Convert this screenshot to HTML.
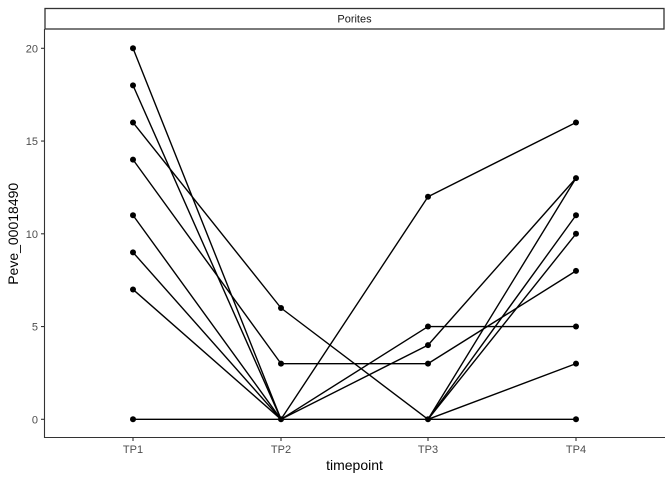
<!DOCTYPE html>
<html><head><meta charset="utf-8"><style>
html,body{margin:0;padding:0;background:#fff;}
svg{display:block;font-family:"Liberation Sans",Arial,sans-serif;}
</style></head><body>
<svg width="672" height="480" viewBox="0 0 672 480" xmlns="http://www.w3.org/2000/svg">
<rect width="672" height="480" fill="#fff"/>
<!-- strip -->
<rect x="45" y="8.5" width="619" height="20.5" fill="#fff" stroke="#333" stroke-width="1.3"/>
<text x="354.5" y="22.5" font-size="11" fill="#1a1a1a" text-anchor="middle">Porites</text>
<!-- axes -->
<line x1="44.5" y1="29" x2="44.5" y2="438" stroke="#333" stroke-width="1.1"/>
<line x1="44" y1="437.5" x2="665" y2="437.5" stroke="#333" stroke-width="1.1"/>
<g stroke="#333" stroke-width="1.1">
<line x1="41" y1="419.3" x2="44" y2="419.3"/>
<line x1="41" y1="326.55" x2="44" y2="326.55"/>
<line x1="41" y1="233.8" x2="44" y2="233.8"/>
<line x1="41" y1="141.05" x2="44" y2="141.05"/>
<line x1="41" y1="48.3" x2="44" y2="48.3"/>
<line x1="133" y1="438" x2="133" y2="441"/>
<line x1="281" y1="438" x2="281" y2="441"/>
<line x1="428" y1="438" x2="428" y2="441"/>
<line x1="576" y1="438" x2="576" y2="441"/>
</g>
<g font-size="11" fill="#4d4d4d" text-anchor="end">
<text x="38" y="423.3">0</text>
<text x="38" y="330.55">5</text>
<text x="38" y="237.8">10</text>
<text x="38" y="145.05">15</text>
<text x="38" y="52.3">20</text>
</g>
<g font-size="11" fill="#4d4d4d" text-anchor="middle">
<text x="133" y="453">TP1</text>
<text x="281" y="453">TP2</text>
<text x="428" y="453">TP3</text>
<text x="576" y="453">TP4</text>
</g>
<text x="354.5" y="470" font-size="14" fill="#000" text-anchor="middle">timepoint</text>
<text transform="translate(18,233.8) rotate(-90)" font-size="14" fill="#000" text-anchor="middle">Peve_00018490</text>
<!-- lines -->
<g stroke="#000" stroke-width="1.4" fill="none">
<line x1="133" y1="48.3" x2="281" y2="419.3"/>
<line x1="133" y1="85.4" x2="281" y2="419.3"/>
<line x1="133" y1="122.5" x2="281" y2="308"/>
<line x1="133" y1="159.6" x2="281" y2="363.65"/>
<line x1="133" y1="215.25" x2="281" y2="419.3"/>
<line x1="133" y1="252.35" x2="281" y2="419.3"/>
<line x1="133" y1="289.45" x2="281" y2="419.3"/>
<line x1="133" y1="419.3" x2="281" y2="419.3"/>
<line x1="281" y1="308" x2="428" y2="419.3"/>
<line x1="281" y1="363.65" x2="428" y2="363.65"/>
<line x1="281" y1="419.3" x2="428" y2="196.7"/>
<line x1="281" y1="419.3" x2="428" y2="326.55"/>
<line x1="281" y1="419.3" x2="428" y2="345.1"/>
<line x1="281" y1="419.3" x2="428" y2="419.3"/>
<line x1="428" y1="196.7" x2="576" y2="122.5"/>
<line x1="428" y1="326.55" x2="576" y2="326.55"/>
<line x1="428" y1="345.1" x2="576" y2="178.15"/>
<line x1="428" y1="363.65" x2="576" y2="270.9"/>
<line x1="428" y1="419.3" x2="576" y2="178.15"/>
<line x1="428" y1="419.3" x2="576" y2="215.25"/>
<line x1="428" y1="419.3" x2="576" y2="233.8"/>
<line x1="428" y1="419.3" x2="576" y2="363.65"/>
<line x1="428" y1="419.3" x2="576" y2="419.3"/>
</g>
<!-- points -->
<g fill="#000">
<circle cx="133" cy="48.3" r="3"/><circle cx="133" cy="85.4" r="3"/><circle cx="133" cy="122.5" r="3"/><circle cx="133" cy="159.6" r="3"/><circle cx="133" cy="215.25" r="3"/><circle cx="133" cy="252.35" r="3"/><circle cx="133" cy="289.45" r="3"/><circle cx="133" cy="419.3" r="3"/>
<circle cx="281" cy="308" r="3"/><circle cx="281" cy="363.65" r="3"/><circle cx="281" cy="419.3" r="3"/>
<circle cx="428" cy="196.7" r="3"/><circle cx="428" cy="326.55" r="3"/><circle cx="428" cy="345.1" r="3"/><circle cx="428" cy="363.65" r="3"/><circle cx="428" cy="419.3" r="3"/>
<circle cx="576" cy="122.5" r="3"/><circle cx="576" cy="178.15" r="3"/><circle cx="576" cy="215.25" r="3"/><circle cx="576" cy="233.8" r="3"/><circle cx="576" cy="270.9" r="3"/><circle cx="576" cy="326.55" r="3"/><circle cx="576" cy="363.65" r="3"/><circle cx="576" cy="419.3" r="3"/>
</g>
</svg>
</body></html>
